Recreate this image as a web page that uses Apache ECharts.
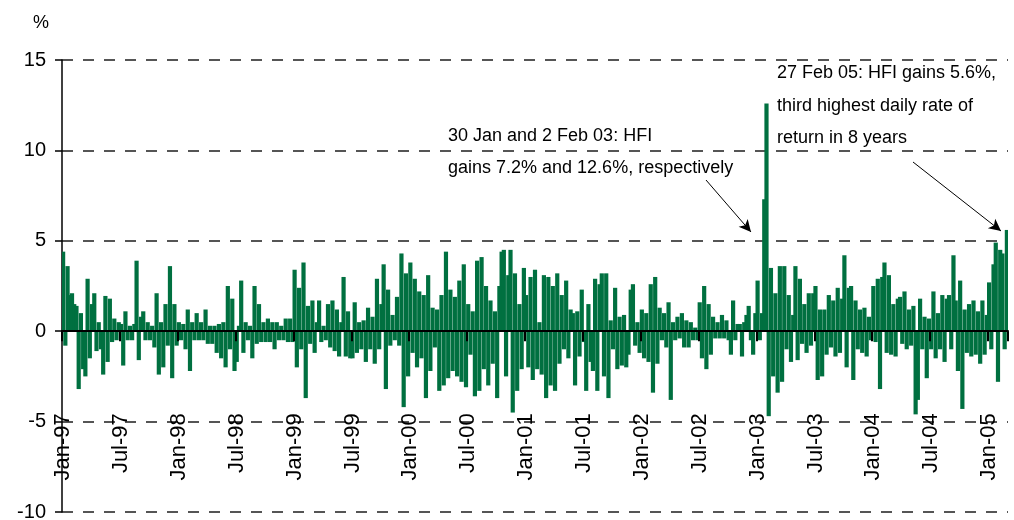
<!DOCTYPE html>
<html>
<head>
<meta charset="utf-8">
<script src="https://cdn.jsdelivr.net/npm/echarts@6/dist/echarts.min.js"></script>
<style>
  html, body { margin: 0; padding: 0; background: #fff; }
  #chart { width: 1014px; height: 520px; }
</style>
</head>
<body>
<div id="chart"></div>
<script>
// ===== HFI daily rate of return (%), one bar per week =====
const r1997 = [4.4, -0.8, 3.6, 2.0, 2.1, 1.5, 1.4, -3.2, 1.0, -2.1, -2.5, 2.9, -1.5, 1.5, 2.1, -1.1, 0.5, -1.0, -2.4, 1.95, -1.7, 1.8, -0.6, 0.7, -0.5, 0.5,
               0.4, -1.9, 1.1, -0.5, 0.3, -0.5, 0.4, 3.9, -1.6, 0.8, 1.1, -0.5, 0.5, -0.5, 0.3, -0.9, 2.1, -2.4, 0.5, -2.0, 1.5, -0.8, 3.6, -2.6, 1.5, -0.8];
const r1998 = [0.5, -0.5, 0.4, -1.0, 1.2, -2.2, 0.5, -0.5, 1.0, -0.5, 0.5, -0.5, 1.2, -0.7, 0.3, -0.7, 0.3, -1.2, 0.4, -1.5, 0.5, -2.0, 2.5, -1.0, 1.8, -2.2,
               -1.7, 0.3, 2.8, -1.2, 0.5, -0.5, 0.3, -1.5, 2.5, -0.7, 1.5, -0.6, 0.5, -0.6, 0.7, -0.6, 0.5, -1.0, 0.5, -0.5, 0.3, -0.5, 0.7, -0.6, 0.7, -0.6];
const r1999 = [3.4, -2.0, 2.4, -1.0, 3.8, -3.7, 1.4, -0.7, 1.7, -1.2, 0.5, 1.7, -0.6, 0.3, -0.5, 1.5, -0.9, 1.7, -1.1, 1.2, -1.4, 0.5, 3.0, -1.4, 1.1, -1.5,
               -1.5, 1.6, -1.2, 0.5, -1.0, 0.6, -1.7, 1.3, -1.0, 0.8, -1.8, 2.9, -1.0, 1.5, 3.7, -3.2, 2.3, -0.8, 0.9, -0.5, 1.9, -0.8, 4.3, -4.2, 3.2, -2.5];
const r2000 = [3.8, -1.2, 2.9, -2.0, 2.2, -1.5, 2.0, -3.7, 3.1, -2.2, 1.3, -0.9, 1.2, -3.3, 2.0, -3.0, 4.4, -2.6, 2.3, -2.2, 1.9, -2.5, 2.8, -2.8, 3.7, -3.1,
               1.5, -1.3, 1.1, -3.6, 3.9, -3.3, 4.1, -2.1, 2.5, -3.0, 1.7, -1.8, 1.1, -3.7, 2.5, 4.4, 4.5, -2.5, 3.1, 4.5, -4.5, 3.2, -3.3, 1.5, -2.1, 3.5];
const r2001 = [2.0, -2.0, 3.0, -2.7, 3.4, -2.1, 0.5, -2.4, 3.1, -3.7, 3.0, -3.0, 2.5, -3.3, 3.2, -1.8, 2.0, -1.0, 2.8, -1.5, 1.2, 1.0, -3.0, 1.1, -1.4, 2.3,
               -0.6, -3.3, 1.5, -1.7, -2.2, 2.9, -3.3, 2.6, 3.2, -2.5, 3.2, -3.7, 0.6, -1.0, 2.4, -2.1, 0.8, -1.9, 0.9, -2.0, -1.3, 2.3, 2.6, -0.8, 0.5, -1.2];
const r2002 = [1.2, -1.5, 1.0, -1.7, 2.6, -3.4, 3.0, -1.8, 1.3, -0.5, 1.0, -0.9, 1.6, -3.8, 0.5, -0.5, 0.8, -0.4, 1.0, -0.9, 0.6, -0.9, 0.5, -0.5, 0.2, -0.5,
               1.6, -1.5, 2.5, -2.1, 1.5, -1.3, 0.8, -0.4, 0.5, -0.4, 0.9, -0.4, 0.6, -0.5, -1.3, 1.7, -0.5, 0.4, 0.4, -1.4, 0.5, 0.9, 1.4, -0.5, -1.3, 1.0];
const r2003 = [2.8, -0.5, 1.0, 7.3, 12.6, -4.7, 3.5, -2.5, 2.1, -3.4, 3.6, -2.8, 3.6, -1.0, 2.0, -1.7, 0.9, 3.6, -1.6, 2.9, -0.7, 1.5, -1.2, 2.1, -0.8, 2.1,
               2.5, -2.7, 1.2, -2.5, 1.2, -1.3, 2.0, -0.9, 1.7, -1.4, 2.4, -1.2, 1.8, 4.2, -2.0, 2.4, 2.5, -2.7, 1.7, -1.0, 1.2, -1.2, 1.3, -1.4, 0.8, -0.5];
const r2004 = [2.5, -0.6, 2.9, -3.2, 3.0, 3.8, -1.2, 3.1, -1.3, 1.5, -1.4, 1.8, 1.9, -0.7, 2.2, -1.0, 1.2, -0.8, 1.4, -4.6, -3.8, 1.8, -1.0, 0.8, -2.6, 0.7,
               -1.0, 2.2, -1.5, 1.0, -1.0, 2.0, -1.7, 1.8, 2.0, -1.0, 4.2, 1.7, -2.2, 2.8, -4.3, 1.2, -1.2, 1.5, -1.4, 1.7, -1.3, 1.1, -1.8, 1.7, -1.3, 0.9];
const r2005 = [2.7, -1.0, 3.7, 4.9, -2.8, 4.5, 4.3, -1.0, 5.6];

// 每半年一个刻度 (26 周)
const tickLabels = ['Jan-97', 'Jul-97', 'Jan-98', 'Jul-98', 'Jan-99', 'Jul-99', 'Jan-00', 'Jul-00', 'Jan-01',
                    'Jul-01', 'Jan-02', 'Jul-02', 'Jan-03', 'Jul-03', 'Jan-04', 'Jul-04', 'Jan-05'];
const WEEKS_PER_TICK = 26;

// ===== categories / values =====
const yearly = [[1997, r1997], [1998, r1998], [1999, r1999], [2000, r2000], [2001, r2001],
                [2002, r2002], [2003, r2003], [2004, r2004], [2005, r2005]];
const categories = [];
const values = [];
yearly.forEach(([year, arr]) => {
    arr.forEach((v, i) => {
        categories.push(year + '-w' + (i + 1));
        values.push(v);
    });
});
// category -> tick label
const labelOf = {};
tickLabels.forEach((t, k) => { labelOf[categories[k * WEEKS_PER_TICK]] = t; });

const FONT = '"Liberation Sans", Arial, sans-serif';
const GRID_TOP = 60, GRID_BOTTOM = 8, Y_MIN = -10, Y_MAX = 15;
// 把 x 轴从底部平移到 0 线
const plotH = 520 - GRID_TOP - GRID_BOTTOM;
const zeroOffset = -plotH * (0 - Y_MIN) / (Y_MAX - Y_MIN);

function textEl(x, y, text, size) {
    return {
        type: 'text', x: x, y: y, silent: true,
        style: {
            text: text, fill: '#000', font: size + 'px ' + FONT,
            textAlign: 'left', textVerticalAlign: 'middle', verticalAlign: 'middle'
        }
    };
}

const chart = echarts.init(document.getElementById('chart'));

chart.setOption({
    animation: false,
    grid: { left: 62, right: 6, top: GRID_TOP, bottom: GRID_BOTTOM, outerBoundsMode: 'none' },
    xAxis: {
        type: 'category',
        data: categories,
        position: 'bottom',
        offset: zeroOffset,
        z: 10,
        axisLine: { onZero: false, lineStyle: { color: '#000', width: 2 } },
        axisTick: { show: true, interval: WEEKS_PER_TICK - 1, length: 10, lineStyle: { color: '#000', width: 2 } },
        axisLabel: {
            show: true,
            interval: WEEKS_PER_TICK - 1,
            formatter: (v) => labelOf[v] || '',
            rotate: 90, margin: 82,
            fontSize: 22, fontFamily: FONT, color: '#000'
        },
        splitLine: { show: false }
    },
    yAxis: {
        type: 'value',
        min: Y_MIN, max: Y_MAX, interval: 5,
        axisLine: { show: true, lineStyle: { color: '#000', width: 1.5 } },
        axisTick: { show: true, length: 7, lineStyle: { color: '#000', width: 1.5 } },
        axisLabel: { margin: 16, fontSize: 20, fontFamily: FONT, color: '#000' },
        splitLine: { show: true, lineStyle: { color: '#555', width: 2, type: [11, 10] } }
    },
    series: [{
        type: 'bar',
        data: values,
        barWidth: 4.2,
        itemStyle: { color: '#007040' },
        markLine: {
            silent: true,
            symbol: ['none', 'arrow'],
            symbolSize: [9, 12],
            label: { show: false },
            lineStyle: { color: '#000', width: 1, type: 'solid' },
            data: [
                [{ x: 706, y: 180 }, { x: 751, y: 232 }],
                [{ x: 913, y: 162 }, { x: 1001, y: 231 }]
            ]
        }
    }],
    graphic: [
        textEl(33, 23, '%', 18),
        textEl(448, 136, '30 Jan and 2 Feb 03: HFI', 18),
        textEl(448, 168, 'gains 7.2% and 12.6%, respectively', 18),
        textEl(777, 73, '27 Feb 05: HFI gains 5.6%,', 18),
        textEl(777, 106, 'third highest daily rate of', 18),
        textEl(777, 138, 'return in 8 years', 18)
    ]
});
</script>
</body>
</html>
